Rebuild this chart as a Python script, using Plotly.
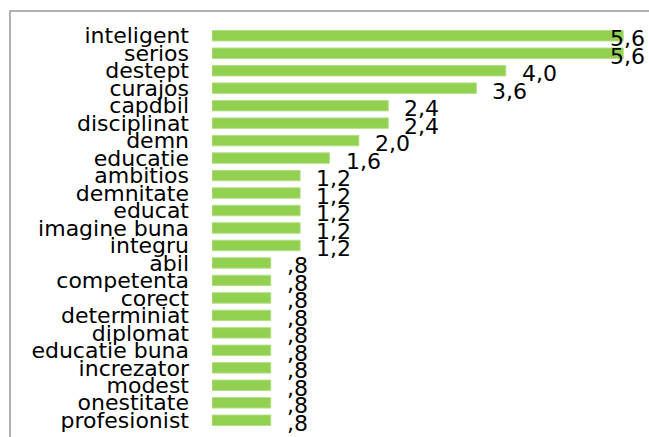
import plotly.graph_objects as go

categories = ["inteligent", "serios", "destept", "curajos", "capdbil", "disciplinat", "demn",
              "educatie", "ambitios", "demnitate", "educat", "imagine buna", "integru", "abil",
              "competenta", "corect", "determiniat", "diplomat", "educatie buna", "increzator",
              "modest", "onestitate", "profesionist"]
values = [5.6, 5.6, 4.0, 3.6, 2.4, 2.4, 2.0, 1.6, 1.2, 1.2, 1.2, 1.2, 1.2,
          0.8, 0.8, 0.8, 0.8, 0.8, 0.8, 0.8, 0.8, 0.8, 0.8]
labels = ["5,6", "5,6", "4,0", "3,6", "2,4", "2,4", "2,0", "1,6", "1,2", "1,2", "1,2", "1,2", "1,2",
          ",8", ",8", ",8", ",8", ",8", ",8", ",8", ",8", ",8", ",8"]

FONT = "DejaVu Sans"
XMAX = 5.95
N = len(categories)

fig = go.Figure(go.Bar(
    x=values, y=categories, orientation="h",
    marker=dict(color="#92D050", line=dict(color="#B5E08A", width=1)),
    hoverinfo="skip",
))

vmax = max(values)
annotations = []
for c, v, t in zip(categories, values, labels):
    if v >= vmax:
        annotations.append(dict(x=XMAX, y=c, xref="x", yref="y", text=t, showarrow=False,
                                xanchor="right", yanchor="middle", xshift=-2, yshift=-3,
                                font=dict(family=FONT, size=22, color="#000")))
    else:
        annotations.append(dict(x=v, y=c, xref="x", yref="y", text=t, showarrow=False,
                                xanchor="left", yanchor="middle", xshift=14, yshift=-3,
                                font=dict(family=FONT, size=22, color="#000")))

fig.update_layout(
    width=649, height=437,
    margin=dict(l=212, r=0, t=27, b=8, autoexpand=False),
    paper_bgcolor="white", plot_bgcolor="white",
    bargap=0.4,
    showlegend=False,
    annotations=annotations,
    xaxis=dict(range=[0, XMAX], visible=False, showgrid=False, zeroline=False,
               fixedrange=True, automargin=False),
    yaxis=dict(range=[N - 0.5, -0.5], showgrid=False, zeroline=False, showline=False,
               automargin=False, type="category",
               tickmode="array", tickvals=categories, ticktext=categories,
               ticks="", ticklabelstandoff=22,
               tickfont=dict(family=FONT, size=22, color="#000")),
    shapes=[dict(type="rect", xref="paper", yref="paper",
                 x0=(10 - 212) / 437, x1=(655 - 212) / 437,
                 y0=(429 - 445) / 402, y1=(429 - 11) / 402,
                 line=dict(color="#999999", width=1.5), fillcolor="rgba(0,0,0,0)", layer="below")],
)

fig.write_html("out.html", config={"displayModeBar": False},
               post_script="document.body.style.margin='0';")
